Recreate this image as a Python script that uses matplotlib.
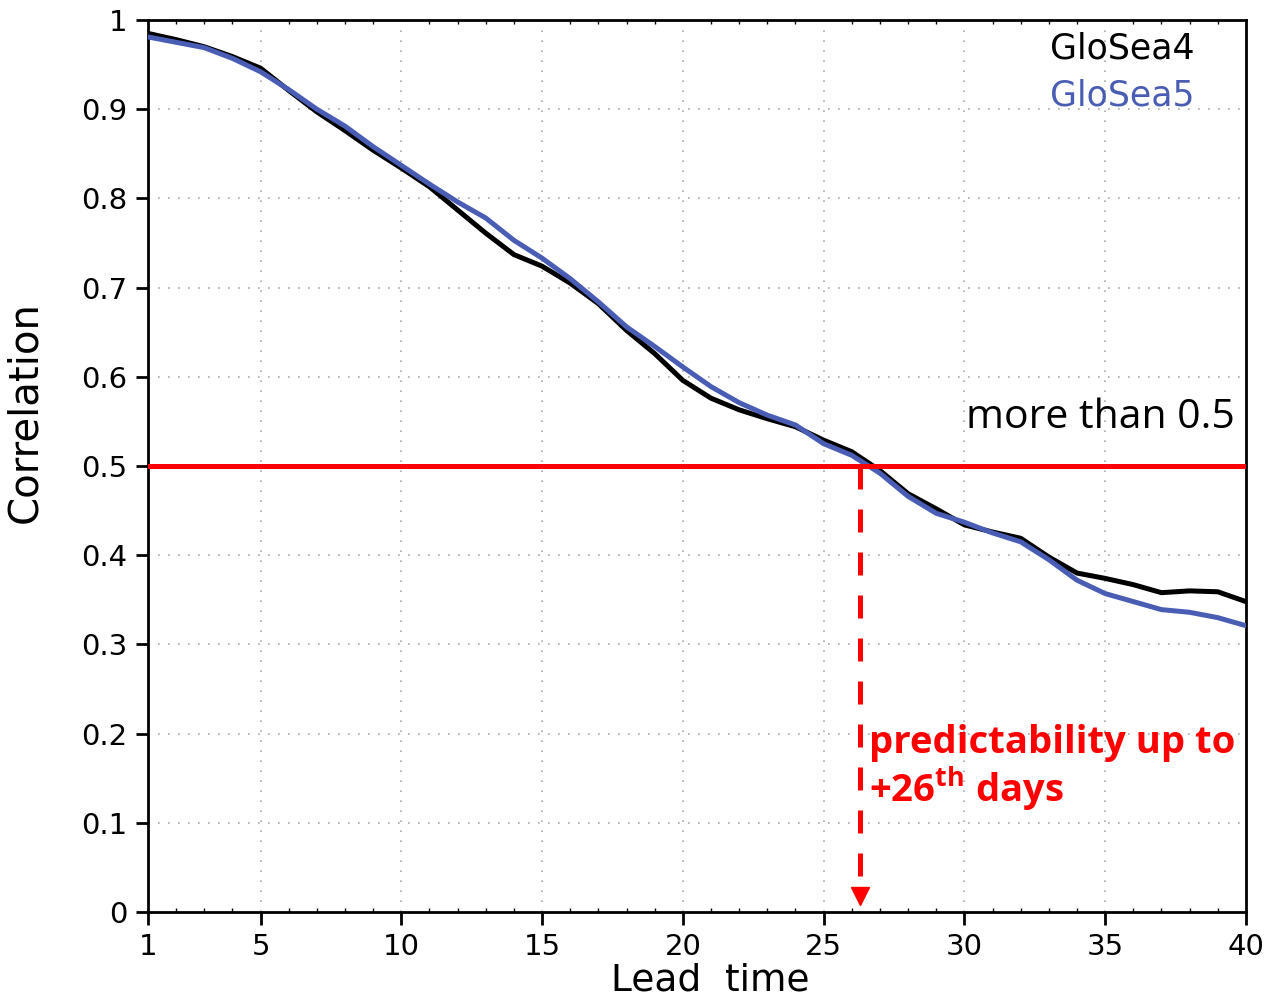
import numpy as np
import matplotlib
matplotlib.use('Agg')
import matplotlib.pyplot as plt
from matplotlib.ticker import MultipleLocator

lead = np.arange(1, 41)
glosea4 = [0.985, 0.978, 0.970, 0.959, 0.946, 0.921, 0.897, 0.876, 0.854, 0.834,
           0.813, 0.787, 0.761, 0.737, 0.724, 0.705, 0.682, 0.652, 0.626, 0.596,
           0.576, 0.563, 0.553, 0.544, 0.529, 0.516, 0.495, 0.469, 0.452, 0.434,
           0.426, 0.419, 0.398, 0.380, 0.374, 0.367, 0.358, 0.360, 0.359, 0.348]
glosea5 = [0.981, 0.975, 0.969, 0.957, 0.942, 0.922, 0.900, 0.881, 0.858, 0.837,
           0.816, 0.796, 0.778, 0.753, 0.733, 0.710, 0.684, 0.656, 0.634, 0.611,
           0.589, 0.571, 0.557, 0.546, 0.525, 0.512, 0.492, 0.466, 0.447, 0.437,
           0.425, 0.415, 0.395, 0.372, 0.357, 0.348, 0.339, 0.336, 0.330, 0.321]
threshold = 0.5
limit_day = 26.3

blue = '#4a5db4'
red = '#ff0000'

plt.rcParams['mathtext.fontset'] = 'custom'
plt.rcParams['mathtext.rm'] = 'Open Sans'
plt.rcParams['mathtext.bf'] = 'Open Sans:bold'

fig = plt.figure(figsize=(12.7, 10), dpi=100)
ax = fig.add_axes([0.1165, 0.088, 0.8645, 0.892])

ax.plot(lead, glosea4, color='black', lw=3.6, zorder=3)
ax.plot(lead, glosea5, color=blue, lw=3.6, zorder=4)

# threshold line and arrow down to the lead time where it is crossed
ax.axhline(threshold, color=red, lw=3.6, zorder=5)
ax.plot([limit_day, limit_day], [threshold, 0.03], color=red, lw=3.6,
        dashes=(4.6, 4), zorder=5)
ax.plot([limit_day], [0.018], marker='v', color=red, markersize=13, zorder=5)

ax.set_xlim(1, 40)
ax.set_ylim(0, 1)
ax.set_xticks([1, 5, 10, 15, 20, 25, 30, 35, 40])
ax.set_yticks(np.arange(0, 1.01, 0.1))
ax.set_yticklabels(['0', '0.1', '0.2', '0.3', '0.4', '0.5', '0.6', '0.7', '0.8', '0.9', '1'])
ax.xaxis.set_minor_locator(MultipleLocator(1))
ax.tick_params(axis='both', which='major', labelsize=21, length=9, width=2, direction='out', pad=6)
ax.tick_params(axis='x', which='minor', length=3, width=1, direction='in', top=True)
for sp in ax.spines.values():
    sp.set_linewidth(2)

for gx in [5, 10, 15, 20, 25, 30, 35]:
    ax.axvline(gx, color='#aaaaaa', lw=1.2, ls=(0, (1, 5)), zorder=1)
for gy in np.arange(0.1, 0.95, 0.1):
    ax.axhline(gy, color='#aaaaaa', lw=1.2, ls=(0, (1, 5)), zorder=1)

ax.set_xlabel('Lead  time', fontsize=27)
ax.set_ylabel('Correlation', fontsize=29)
ax.xaxis.set_label_coords(0.512, -0.057)
ax.yaxis.set_label_coords(-0.094, 0.56)

ax.text(0.953, 0.968, 'GloSea4', transform=ax.transAxes, ha='right', va='center',
        fontsize=25, color='black')
ax.text(0.953, 0.915, 'GloSea5', transform=ax.transAxes, ha='right', va='center',
        fontsize=25, color=blue)

ax.text(39.6, 0.554, 'more than 0.5', ha='right', va='center', fontsize=29.5,
        family='Open Sans', color='black')
ax.text(26.6, 0.19, 'predictability up to', ha='left', va='center', fontsize=27.5,
        family='Open Sans', fontweight='bold', color=red)
ax.text(26.6, 0.139, r'+26$^{\mathbf{th}}$ days', ha='left', va='center', fontsize=27.5,
        family='Open Sans', fontweight='bold', color=red)

fig.savefig('out.png', dpi=100)
